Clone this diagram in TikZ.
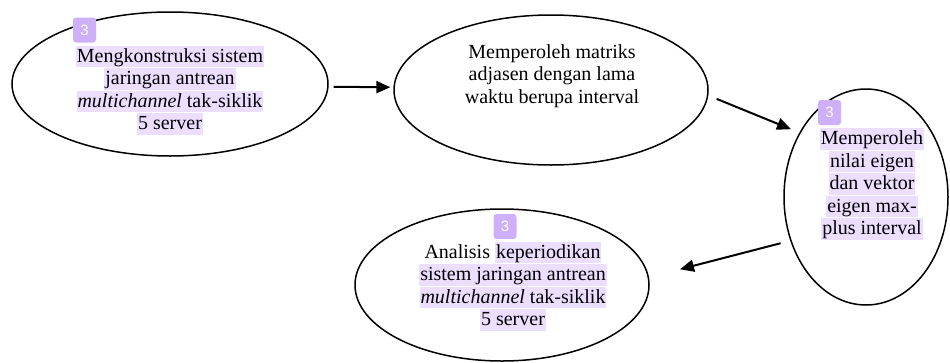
\documentclass[tikz,border=0pt]{standalone}
\usepackage{fontspec}
\setmainfont{Liberation Serif}
\newfontfamily\badgefont{Liberation Sans}
\usetikzlibrary{shapes.geometric,arrows.meta}
\definecolor{hlcol}{RGB}{236,222,255}
\definecolor{badgecol}{RGB}{206,176,250}
\newcommand{\hlline}[1]{{\setlength{\fboxsep}{0pt}\colorbox{hlcol}{\kern1pt\rule[-5pt]{0pt}{21.5pt}#1\kern1pt}}}
\begin{document}
\begin{tikzpicture}[x=1pt,y=-1pt,
 ell/.style={draw, ellipse, line width=1.5pt, inner sep=0pt},
 txt/.style={align=center, font=\fontsize{20}{22.5}\selectfont, inner sep=0pt},
 arr/.style={line width=2pt, -{Triangle[length=14pt,width=12pt]}},
 badge/.style={fill=badgecol, rounded corners=3pt, minimum width=23pt, minimum height=25pt, inner sep=0pt, text=white, font=\badgefont\fontsize{15}{15}\selectfont}]
\useasboundingbox (0,0) rectangle (950,362);
\node[ell, minimum width=316pt, minimum height=144pt] (e1) at (170,84) {};
\node[ell, minimum width=314pt, minimum height=150pt] (e2) at (551,90) {};
\node[ell, minimum width=164pt, minimum height=216pt] (e3) at (866,197) {};
\node[ell, minimum width=294pt, minimum height=152pt] (e4) at (502,285) {};
\node[txt] (t1) at (170,90) {\hlline{Mengkonstruksi sistem}\\ \hlline{jaringan antrean}\\ \hlline{\textit{multichannel} tak-siklik}\\ \hlline{5 server}};
\node[txt] (t2) at (552,76) {Memperoleh matriks\\ adjasen dengan lama\\ waktu berupa interval};
\node[txt] (t3) at (872,184) {\hlline{Memperoleh}\\ \hlline{nilai eigen}\\ \hlline{dan vektor}\\ \hlline{eigen max-}\\ \hlline{plus interval}};
\node[txt] (t4) at (513,286) {Analisis \hlline{keperiodikan}\\ \hlline{sistem jaringan antrean}\\ \hlline{\textit{multichannel} tak-siklik}\\ \hlline{5 server}};
\node[badge] (b1) at (84.5,30) {3};
\node[badge] (b3) at (829.5,112.5) {3};
\node[badge] (b4) at (505,226.5) {3};
\draw[arr, shorten <=5pt, shorten >=3pt] (e1.-1) -- (e2.179);
\draw[arr, shorten <=9pt, shorten >=9pt] (e2.-2) -- (e3.136.6);
\draw[arr, shorten <=10pt, shorten >=32pt] (e3.210.8) -- (e4.3.9);
\end{tikzpicture}
\end{document}
